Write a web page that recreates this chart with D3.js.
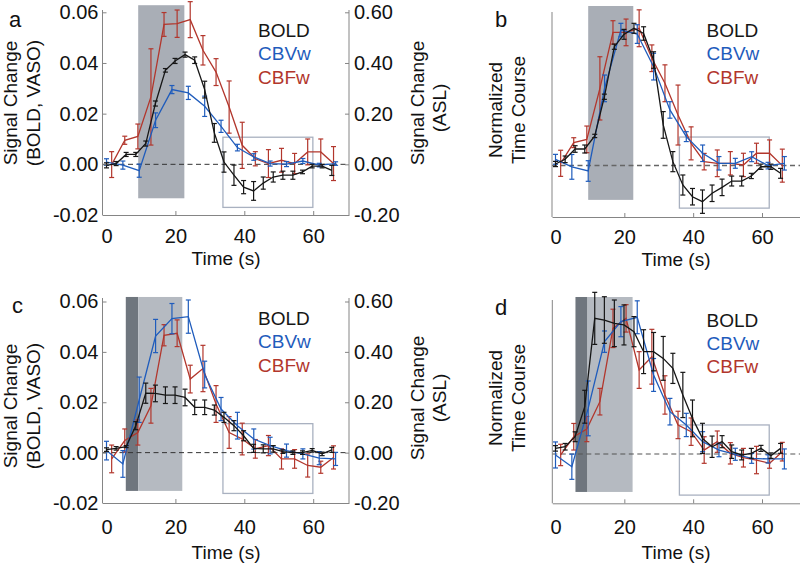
<!DOCTYPE html>
<html><head><meta charset="utf-8">
<script src="https://cdn.jsdelivr.net/npm/d3@7"></script>
<style>
html,body{margin:0;padding:0;background:#fff;}
svg{display:block;font-family:"Liberation Sans",Arial,Helvetica,sans-serif;}
</style></head>
<body><svg id="chart" width="800" height="565"></svg>
<script>
// ---------------- DATA ----------------
const xTickValues = [0, 20, 40, 60];
const leftTickValues = [-0.02, 0, 0.02, 0.04, 0.06];
const leftTickLabels = ["-0.02", "0.00", "0.02", "0.04", "0.06"];
const rightTickValues = [-0.2, 0, 0.2, 0.4, 0.6];
const rightTickLabels = ["-0.20", "0.00", "0.20", "0.40", "0.60"];
const seriesNames = ["BOLD", "CBVw", "CBFw"];

const tBold = [0, 2.8, 5.7, 8.5, 11.4, 14.2, 17.1, 19.9, 22.8, 25.6, 28.5, 31.3, 34.1, 37.0, 39.8, 42.7, 45.5, 48.4, 51.2, 54.1, 56.9, 59.7, 62.6, 65.4];
const tCbv = [0, 4.75, 9.5, 14.25, 19.0, 23.75, 28.5, 33.25, 38.0, 42.75, 47.5, 52.25, 57.0, 61.75, 66.5];
const tCbf = [1.5, 5.3, 9.1, 12.9, 16.7, 20.5, 24.3, 28.0, 31.8, 35.6, 39.4, 43.2, 47.0, 50.8, 54.6, 58.4, 62.2, 65.9];

// panel a (BOLD/CBVw: signal change; CBFw: ASL signal change)
const boldA = [-0.0004, 0.0003, 0.0039, 0.0039, 0.0082, 0.0240, 0.0371, 0.0408, 0.0433, 0.0411, 0.0295, 0.0124, 0.0009, -0.0043, -0.0090, -0.0105, -0.0074, -0.0050, -0.0043, -0.0043, -0.0030, -0.0007, -0.0007, -0.0024];
const boldAErr = [0.001, 0.0008, 0.0008, 0.0008, 0.001, 0.001, 0.0007, 0.001, 0.001, 0.0013, 0.0033, 0.0037, 0.004, 0.004, 0.0026, 0.0037, 0.0024, 0.002, 0.0016, 0.0016, 0.0007, 0.0007, 0.0007, 0.002];
const cbvA = [0.0009, -0.0003, -0.0025, 0.0174, 0.0295, 0.0282, 0.0229, 0.0150, 0.0066, 0.0029, 0.0003, 0.0001, 0.0013, -0.0003, 0.0003];
const cbvAErr = [0.0013, 0.0016, 0.0026, 0.0029, 0.0016, 0.0026, 0.004, 0.0024, 0.0013, 0.0013, 0.001, 0.001, 0.001, 0.0007, 0.0007];
const cbfA = [-0.001, 0.095, 0.11, 0.266, 0.552, 0.555, 0.571, 0.45, 0.364, 0.226, 0.075, 0.022, 0.003, 0.016, 0.003, 0.049, 0.049, 0.003];
const cbfAErr = [0.051, 0.016, 0.049, 0.19, 0.047, 0.054, 0.071, 0.058, 0.053, 0.103, 0.091, 0.028, 0.055, 0.047, 0.04, 0.051, 0.051, 0.067];

// panel b (normalized)
const boldB = [0.011, 0.045, 0.12, 0.12, 0.215, 0.50, 0.864, 0.954, 0.998, 0.96, 0.767, 0.295, 0.028, -0.142, -0.227, -0.263, -0.202, -0.159, -0.113, -0.113, -0.076, -0.009, -0.009, -0.057];
const boldBErr = [0.019, 0.024, 0.024, 0.029, 0.012, 0.019, 0.019, 0.036, 0.036, 0.049, 0.06, 0.097, 0.073, 0.073, 0.06, 0.085, 0.06, 0.06, 0.036, 0.036, 0.019, 0.019, 0.019, 0.036];
const cbvB = [0.045, -0.01, -0.04, 0.561, 0.985, 0.956, 0.719, 0.404, 0.21, 0.089, 0.016, 0.016, 0.064, -0.001, 0.016];
const cbvBErr = [0.036, 0.09, 0.075, 0.097, 0.049, 0.068, 0.097, 0.06, 0.036, 0.06, 0.049, 0.036, 0.036, 0.024, 0.049];
const cbfB = [0.016, 0.166, 0.19, 0.561, 0.968, 0.968, 0.998, 0.78, 0.598, 0.367, 0.161, 0.028, 0.016, 0.016, 0.004, 0.089, 0.089, -0.001];
const cbfBErr = [0.095, 0.036, 0.097, 0.23, 0.085, 0.097, 0.134, 0.097, 0.134, 0.218, 0.12, 0.06, 0.097, 0.085, 0.085, 0.073, 0.097, 0.12];

// panel c
const boldC = [0.0012, 0.0017, 0.0024, 0.0107, 0.0236, 0.0235, 0.0228, 0.0228, 0.0219, 0.018, 0.018, 0.0169, 0.014, 0.0107, 0.0067, 0.0017, 0.0015, 0.0015, 0.0004, 0.0, 0.0, 0.0009, -0.0005, 0.0011];
const boldCErr = [0.0007, 0.0007, 0.0004, 0.0016, 0.004, 0.0033, 0.0033, 0.0033, 0.0033, 0.0029, 0.0029, 0.002, 0.002, 0.002, 0.002, 0.0016, 0.0016, 0.0013, 0.0007, 0.0007, 0.0007, 0.0007, 0.0007, 0.001];
const cbvC = [0.0008, -0.0045, 0.021, 0.0463, 0.0532, 0.054, 0.031, 0.0173, 0.0107, 0.0054, 0.0028, 0.0008, -0.0005, -0.0022, -0.0025];
const cbvCErr = [0.0037, 0.0053, 0.009, 0.0066, 0.006, 0.0066, 0.0053, 0.0046, 0.0053, 0.004, 0.0033, 0.0026, 0.002, 0.0026, 0.0026];
const cbfC = [-0.025, 0.048, 0.08, 0.186, 0.466, 0.474, 0.292, 0.334, 0.193, 0.08, 0.054, 0.015, 0.028, -0.025, -0.025, -0.051, -0.058, -0.019];
const cbfCErr = [0.055, 0.046, 0.05, 0.069, 0.042, 0.053, 0.055, 0.092, 0.073, 0.063, 0.063, 0.037, 0.04, 0.04, 0.037, 0.046, 0.024, 0.046];

// panel d (normalized)
const boldD = [0.041, 0.053, 0.126, 0.345, 0.99, 0.978, 0.954, 0.942, 0.893, 0.747, 0.747, 0.698, 0.625, 0.431, 0.26, 0.114, 0.053, 0.09, 0.017, -0.007, 0.005, 0.041, -0.012, 0.041];
const boldDErr = [0.02, 0.024, 0.036, 0.12, 0.19, 0.17, 0.17, 0.146, 0.11, 0.16, 0.14, 0.16, 0.11, 0.165, 0.134, 0.11, 0.078, 0.044, 0.049, 0.036, 0.036, 0.022, 0.02, 0.036];
const cbvD = [-0.007, -0.093, 0.333, 0.82, 0.966, 0.998, 0.577, 0.309, 0.212, 0.09, 0.029, -0.002, -0.032, -0.036, -0.036];
const cbvDErr = [0.095, 0.092, 0.2, 0.078, 0.11, 0.12, 0.12, 0.097, 0.085, 0.073, 0.049, 0.044, 0.036, 0.03, 0.073];
const cbfD = [-0.007, 0.126, 0.182, 0.382, 0.917, 0.99, 0.613, 0.71, 0.431, 0.212, 0.163, 0.029, 0.09, 0.005, -0.027, -0.044, -0.068, 0.017];
const cbfDErr = [0.078, 0.097, 0.092, 0.097, 0.14, 0.1, 0.134, 0.2, 0.14, 0.1, 0.1, 0.097, 0.078, 0.078, 0.068, 0.1, 0.036, 0.068];

// stimulus periods (s) and analysis windows
const stimA = [9.2, 22.6], stimB = [9.5, 22.6];
const stimCDark = [5.6, 9.2], stimCLight = [9.2, 22.0];
const stimDDark = [5.8, 9.3], stimDLight = [9.3, 22.4];
const shadeYA = [-0.0134, 0.0628], shadeYB = [-0.25, 1.16];
const shadeYC = [-0.0152, 0.0618], shadeYD = [-0.277, 1.146];
const boxA = [33.8, 59.9, -0.017, 0.0107], boxB = [36.0, 62.1, -0.31, 0.207];
const boxC = [33.8, 59.9, -0.0162, 0.0115], boxD = [36.0, 62.1, -0.30, 0.212];

// ---------------- DRAW ----------------
const svg = d3.select("#chart");
const COL = {BOLD: "#161616", CBVw: "#1f5cbc", CBFw: "#b2362c"};
const AXC = "#858585";
const FONT = 19, TICKFONT = 20;
const FAMILY = '"Liberation Sans",Arial,Helvetica,sans-serif';

function makeX(t0px, t60px, left, right) {
  const base = d3.scaleLinear().domain([0, 60]).range([t0px, t60px]);
  return d3.scaleLinear().domain([base.invert(left), base.invert(right)]).range([left, right]);
}

function series(g, x, y, t, v, e, color) {
  const pts = t.map((tt, i) => ({t: tt, v: v[i], e: e[i]}));
  g.append("path").datum(pts)
    .attr("fill", "none").attr("stroke", color).attr("stroke-width", 1.3)
    .attr("d", d3.line().x(d => x(d.t)).y(d => y(d.v)));
  const eb = g.append("g").attr("stroke", color).attr("stroke-width", 1.2);
  pts.forEach(d => {
    const xx = x(d.t), y1 = y(d.v - d.e), y2 = y(d.v + d.e);
    eb.append("line").attr("x1", xx).attr("x2", xx).attr("y1", y1).attr("y2", y2);
    eb.append("line").attr("x1", xx - 2.5).attr("x2", xx + 2.5).attr("y1", y1).attr("y2", y1);
    eb.append("line").attr("x1", xx - 2.5).attr("x2", xx + 2.5).attr("y1", y2).attr("y2", y2);
  });
}

function styleAxis(a) {
  a.attr("font-family", FAMILY).attr("font-size", TICKFONT);
  a.selectAll(".tick line").attr("stroke", AXC);
  a.selectAll("text").attr("fill", "#111");
}

function panel(cfg) {
  const g = svg.append("g");
  const x = makeX(cfg.x0, cfg.x60, cfg.left, cfg.right);
  const y = d3.scaleLinear().domain(cfg.yDom).range(cfg.yRange);
  cfg.shades.forEach(s => {
    g.append("rect").attr("x", x(s.t[0])).attr("width", x(s.t[1]) - x(s.t[0]))
      .attr("y", y(s.y[1])).attr("height", y(s.y[0]) - y(s.y[1])).attr("fill", s.fill);
  });
  const b = cfg.box;
  g.append("rect").attr("x", x(b[0])).attr("width", x(b[1]) - x(b[0]))
    .attr("y", y(b[3])).attr("height", y(b[2]) - y(b[3]))
    .attr("fill", "none").attr("stroke", "#a9b1c0").attr("stroke-width", 1.3);
  g.append("line").attr("x1", cfg.left).attr("x2", cfg.right).attr("y1", y(0)).attr("y2", y(0))
    .attr("stroke", cfg.dashColor).attr("stroke-width", cfg.dashWidth).attr("stroke-dasharray", "5,3.5");
  const yR = cfg.yRDom ? d3.scaleLinear().domain(cfg.yRDom).range(cfg.yRange) : y;
  series(g, x, yR, tCbf, cfg.cbf, cfg.cbfE, COL.CBFw);
  series(g, x, y, tCbv, cfg.cbv, cfg.cbvE, COL.CBVw);
  series(g, x, y, tBold, cfg.bold, cfg.boldE, COL.BOLD);
  const xa = g.append("g").attr("transform", `translate(0,${cfg.bottom})`)
    .call(d3.axisBottom(x).tickValues(xTickValues).tickSizeInner(-4).tickSizeOuter(0).tickPadding(cfg.xPad));
  styleAxis(xa);
  xa.select(".domain").attr("stroke", AXC);
  xa.selectAll(".tick line").filter(d => d === 0).remove();
  g.append("line").attr("x1", cfg.left).attr("x2", cfg.left).attr("y1", cfg.top).attr("y2", cfg.bottom).attr("stroke", AXC);
  if (cfg.yTicks) {
    const ya = g.append("g").attr("transform", `translate(${cfg.left},0)`)
      .call(d3.axisLeft(y).tickValues(leftTickValues).tickFormat((d, i) => leftTickLabels[i]).tickSizeInner(-4).tickSizeOuter(0).tickPadding(4));
    ya.select(".domain").remove();
    styleAxis(ya);
    const yr = d3.scaleLinear().domain(cfg.yRDom).range(cfg.yRange);
    const ra = g.append("g").attr("transform", `translate(${cfg.right},0)`)
      .call(d3.axisRight(yr).tickValues(rightTickValues).tickFormat((d, i) => rightTickLabels[i]).tickSizeInner(-4).tickSizeOuter(0).tickPadding(5));
    ra.select(".domain").remove();
    styleAxis(ra);
    g.append("line").attr("x1", cfg.right).attr("x2", cfg.right).attr("y1", cfg.top).attr("y2", cfg.bottom).attr("stroke", AXC);
  }
  g.append("text").attr("x", cfg.xLabelX).attr("y", cfg.xLabelY).attr("text-anchor", "middle")
    .attr("font-size", FONT).attr("fill", "#111").text("Time (s)");
  cfg.yLabels.forEach(l => {
    g.append("text").attr("transform", `translate(${l.x},${l.y}) rotate(-90)`)
      .attr("text-anchor", "middle").attr("font-size", FONT).attr("fill", "#111").text(l.text);
  });
  seriesNames.forEach((n, i) => {
    g.append("text").attr("x", cfg.legX).attr("y", cfg.legY + i * 23.4)
      .attr("font-size", FONT).attr("fill", COL[n]).text(n);
  });
  g.append("text").attr("x", cfg.letterX).attr("y", cfg.letterY).attr("font-size", 22)
    .attr("fill", "#111").text(cfg.letter);
}

const SHADE = "#a9aeb6", LIGHT = "#b5bac1", DARK = "#6f767e";

panel({letter: "a", letterX: 9, letterY: 27,
  x0: 106.5, x60: 313.2, left: 102.5, right: 349, top: 10, bottom: 215, xPad: 14,
  yDom: [-0.02, 0.06], yRDom: [-0.2, 0.6], yRange: [215, 12.3], yTicks: true,
  shades: [{t: stimA, y: shadeYA, fill: SHADE}], box: boxA,
  dashColor: "#333", dashWidth: 1,
  bold: boldA, boldE: boldAErr, cbv: cbvA, cbvE: cbvAErr, cbf: cbfA, cbfE: cbfAErr,
  xLabelX: 226, xLabelY: 264.8,
  yLabels: [{x: 17, y: 103, text: "Signal Change"}, {x: 39.5, y: 103, text: "(BOLD, VASO)"},
            {x: 423.5, y: 103, text: "Signal Change"}, {x: 446, y: 108, text: "(ASL)"}],
  legX: 258, legY: 36.7});

panel({letter: "b", letterX: 495, letterY: 27,
  x0: 555.5, x60: 762, left: 552, right: 800, top: 12, bottom: 217, xPad: 13,
  yDom: [0, 1], yRange: [165.5, 28], yTicks: false,
  shades: [{t: stimB, y: shadeYB, fill: SHADE}], box: boxB,
  dashColor: "#666", dashWidth: 1.4,
  bold: boldB, boldE: boldBErr, cbv: cbvB, cbvE: cbvBErr, cbf: cbfB, cbfE: cbfBErr,
  xLabelX: 676, xLabelY: 265.8,
  yLabels: [{x: 501.5, y: 110, text: "Normalized"}, {x: 524.5, y: 110, text: "Time Course"}],
  legX: 706.5, legY: 36.7});

panel({letter: "c", letterX: 12, letterY: 313,
  x0: 106.5, x60: 313.2, left: 102.5, right: 349, top: 298, bottom: 503, xPad: 17,
  yDom: [-0.02, 0.06], yRDom: [-0.2, 0.6], yRange: [503, 301.5], yTicks: true,
  shades: [{t: stimCDark, y: shadeYC, fill: DARK}, {t: stimCLight, y: shadeYC, fill: LIGHT}], box: boxC,
  dashColor: "#333", dashWidth: 1,
  bold: boldC, boldE: boldCErr, cbv: cbvC, cbvE: cbvCErr, cbf: cbfC, cbfE: cbfCErr,
  xLabelX: 226, xLabelY: 559,
  yLabels: [{x: 17, y: 406, text: "Signal Change"}, {x: 39.5, y: 406, text: "(BOLD, VASO)"},
            {x: 423.5, y: 398, text: "Signal Change"}, {x: 446, y: 398, text: "(ASL)"}],
  legX: 258, legY: 325});

panel({letter: "d", letterX: 495, letterY: 315,
  x0: 555.5, x60: 762, left: 552.3, right: 800, top: 300, bottom: 503.3, xPad: 17,
  yDom: [0, 1], yRange: [454, 317], yTicks: false,
  shades: [{t: stimDDark, y: shadeYD, fill: DARK}, {t: stimDLight, y: shadeYD, fill: LIGHT}], box: boxD,
  dashColor: "#555", dashWidth: 1.2,
  bold: boldD, boldE: boldDErr, cbv: cbvD, cbvE: cbvDErr, cbf: cbfD, cbfE: cbfDErr,
  xLabelX: 676, xLabelY: 559,
  yLabels: [{x: 501.5, y: 398, text: "Normalized"}, {x: 524.5, y: 398, text: "Time Course"}],
  legX: 706.5, legY: 326.5});
</script></body></html>
